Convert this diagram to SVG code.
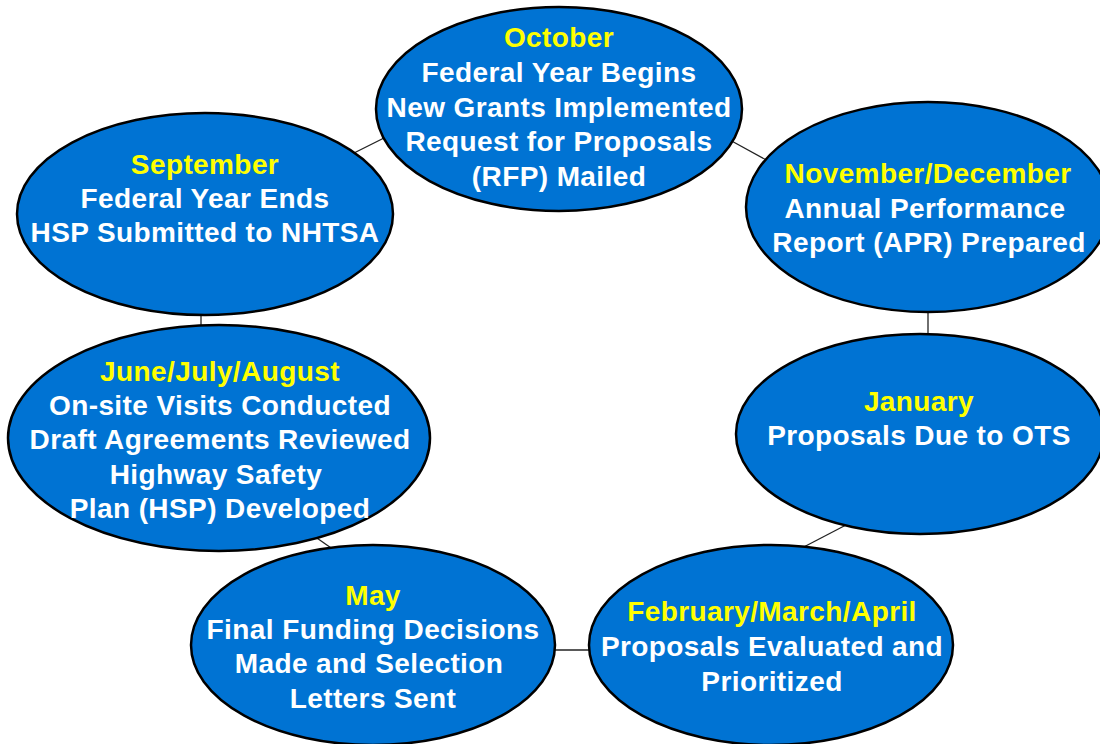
<svg xmlns="http://www.w3.org/2000/svg" width="1100" height="744" viewBox="0 0 1100 744">
<style>
.node{fill:#0073D3;stroke:#000;stroke-width:2.5}
.conn line{stroke:#222;stroke-width:1.3}
text{font-family:"Liberation Sans",Arial,sans-serif;font-weight:bold;font-size:28px;letter-spacing:0.4px;text-anchor:middle;fill:#fff}
.h{fill:#FFFF00}
</style>
<rect width="1100" height="744" fill="#fff"/>
<g id="connectors" class="conn">
<line x1="350" y1="155" x2="388" y2="136"/>
<line x1="728" y1="139" x2="770" y2="162"/>
<line x1="928" y1="308" x2="928" y2="338"/>
<line x1="846" y1="525" x2="798" y2="550"/>
<line x1="550" y1="650" x2="594" y2="650"/>
<line x1="314" y1="536" x2="334" y2="550"/>
<line x1="201" y1="310" x2="201" y2="330"/>
</g>
<g id="october">
<ellipse class="node" cx="559" cy="109" rx="183" ry="102"/>
<text class="h" x="559" y="47">October</text>
<text x="559" y="82">Federal Year Begins</text>
<text x="559" y="117">New Grants Implemented</text>
<text x="559" y="151">Request for Proposals</text>
<text x="559" y="186">(RFP) Mailed</text>
</g>
<g id="novdec">
<ellipse class="node" cx="928" cy="207" rx="182" ry="105"/>
<text class="h" x="928" y="183">November/December</text>
<text x="925" y="218">Annual Performance</text>
<text x="929" y="252">Report (APR) Prepared</text>
</g>
<g id="january">
<ellipse class="node" cx="920" cy="434" rx="184" ry="100"/>
<text class="h" x="919" y="411">January</text>
<text x="919" y="445">Proposals Due to OTS</text>
</g>
<g id="febmarapr">
<ellipse class="node" cx="771" cy="645" rx="182" ry="100"/>
<text class="h" x="772" y="621">February/March/April</text>
<text x="772" y="656">Proposals Evaluated and</text>
<text x="772" y="691">Prioritized</text>
</g>
<g id="may">
<ellipse class="node" cx="373" cy="645" rx="182" ry="100"/>
<text class="h" x="373" y="605">May</text>
<text x="373" y="639">Final Funding Decisions</text>
<text x="369" y="673">Made and Selection</text>
<text x="373" y="708">Letters Sent</text>
</g>
<g id="junjulaug">
<ellipse class="node" cx="219" cy="438" rx="211" ry="113"/>
<text class="h" x="220" y="381">June/July/August</text>
<text x="220" y="415">On-site Visits Conducted</text>
<text x="220" y="449">Draft Agreements Reviewed</text>
<text x="216" y="484">Highway Safety</text>
<text x="220" y="518">Plan (HSP) Developed</text>
</g>
<g id="september">
<ellipse class="node" cx="205" cy="214" rx="188" ry="101"/>
<text class="h" x="205" y="174">September</text>
<text x="205" y="208">Federal Year Ends</text>
<text x="205" y="242">HSP Submitted to NHTSA</text>
</g>
</svg>
